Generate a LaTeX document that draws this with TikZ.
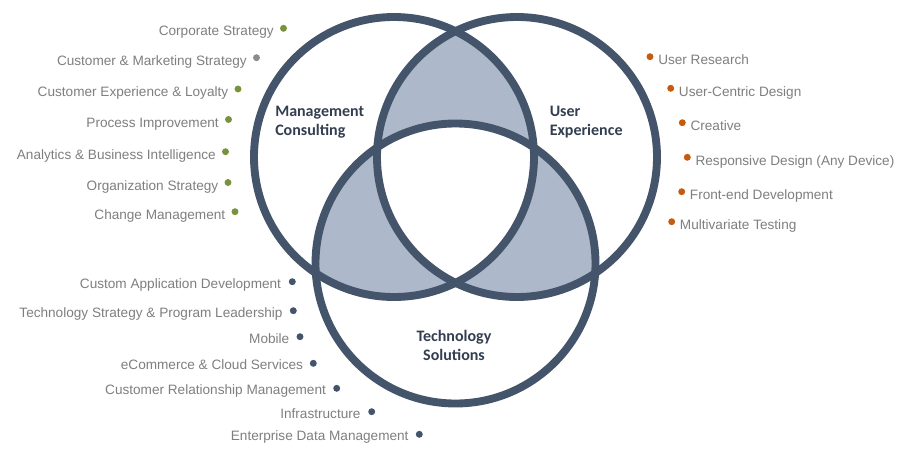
\documentclass[tikz,border=0pt]{standalone}
\usepackage{fontspec}
\setmainfont{Liberation Sans}
\newfontfamily\carlito{Carlito}
\definecolor{ring}{HTML}{44546A}
\definecolor{lapfill}{HTML}{ADB9CA}
\definecolor{itemgray}{HTML}{7F7F7F}
\definecolor{dgreen}{HTML}{77933C}
\definecolor{dorange}{HTML}{C55A11}
\definecolor{dgray}{HTML}{8C8C8C}
\definecolor{dnavy}{HTML}{44546A}
\definecolor{labelc}{HTML}{333F50}
\tikzset{
  ringline/.style={draw=ring, line width=5.9pt},
  dotbase/.style={circle, inner sep=0pt, minimum size=5.2pt},
  dotg/.style={dotbase, fill=dgreen},
  dotgr/.style={dotbase, fill=dgray},
  doto/.style={dotbase, fill=dorange},
  dotn/.style={dotbase, fill=dnavy},
  itemtext/.style={inner sep=0pt, text=itemgray, font=\fontsize{10.2}{12}\selectfont},
  ltext/.style={itemtext, anchor=base east},
  rtext/.style={itemtext, anchor=base west},
  bigl/.style={inner sep=0pt, text=labelc, font=\carlito\bfseries\fontsize{12}{14.4}\selectfont},
}
\begin{document}
\begin{tikzpicture}[x=0.75pt,y=-0.75pt]
\useasboundingbox[fill=white] (0,0) rectangle (911,461);
\coordinate (cA) at (394,157);
\coordinate (cB) at (517,157);
\coordinate (cC) at (455.5,263.5);
% shaded pairwise overlaps
\begin{scope}
  \clip (cA) circle [radius=105pt];
  \fill[lapfill] (cB) circle [radius=105pt];
  \fill[lapfill] (cC) circle [radius=105pt];
\end{scope}
\begin{scope}
  \clip (cB) circle [radius=105pt];
  \fill[lapfill] (cC) circle [radius=105pt];
\end{scope}
\begin{scope}
  \clip (cA) circle [radius=105pt];
  \clip (cB) circle [radius=105pt];
  \fill[white] (cC) circle [radius=105pt];
\end{scope}
% rings
\draw[ringline] (cA) circle [radius=105pt];
\draw[ringline] (cB) circle [radius=105pt];
\draw[ringline] (cC) circle [radius=105pt];
% circle labels
\node[bigl, anchor=north west, align=left] (lmc) at (275,106) {Management\\Consulting};
\node[bigl, anchor=north west, align=left] (lux) at (549.5,106) {User\\Experience};
\node[bigl, anchor=north, align=center] (lts) at (454,330) {Technology\\Solutions};
% left items
\node[dotg]  (g1) at (283.5,28.3) {};
\node[dotgr] (g2) at (256.5,57.7) {};
\node[dotg]  (g3) at (238,89) {};
\node[dotg]  (g4) at (228.5,119.5) {};
\node[dotg]  (g5) at (225.5,151.7) {};
\node[dotg]  (g6) at (228,182.5) {};
\node[dotg]  (g7) at (235,211.7) {};
\node[ltext] (t1) at ([shift={(-9.5,7.5)}]g1) {Corporate Strategy};
\node[ltext] (t2) at ([shift={(-9.5,7.5)}]g2) {Customer \& Marketing Strategy};
\node[ltext] (t3) at ([shift={(-9.5,7.5)}]g3) {Customer Experience \& Loyalty};
\node[ltext] (t4) at ([shift={(-9.5,7.5)}]g4) {Process Improvement};
\node[ltext] (t5) at ([shift={(-9.5,7.5)}]g5) {Analytics \& Business Intelligence};
\node[ltext] (t6) at ([shift={(-9.5,7.5)}]g6) {Organization Strategy};
\node[ltext] (t7) at ([shift={(-9.5,7.5)}]g7) {Change Management};
% right items
\node[doto] (o1) at (650,56.7) {};
\node[doto] (o2) at (670.7,88.3) {};
\node[doto] (o3) at (682.3,122.7) {};
\node[doto] (o4) at (687.3,157.3) {};
\node[doto] (o5) at (681.7,191.7) {};
\node[doto] (o6) at (671.7,221.7) {};
\node[rtext] (u1) at ([shift={(8,8)}]o1) {User Research};
\node[rtext] (u2) at ([shift={(8,8)}]o2) {User-Centric Design};
\node[rtext] (u3) at ([shift={(8,8)}]o3) {Creative};
\node[rtext] (u4) at ([shift={(8,8)}]o4) {Responsive Design (Any Device)};
\node[rtext] (u5) at ([shift={(8,8)}]o5) {Front-end Development};
\node[rtext] (u6) at ([shift={(8,8)}]o6) {Multivariate Testing};
% bottom items
\node[dotn] (n1) at (292.3,281.7) {};
\node[dotn] (n2) at (293.3,310.7) {};
\node[dotn] (n3) at (300,336.7) {};
\node[dotn] (n4) at (313.3,363.3) {};
\node[dotn] (n5) at (336.7,388.3) {};
\node[dotn] (n6) at (371.7,411.7) {};
\node[dotn] (n7) at (419.3,434.3) {};
\node[ltext] (b1) at ([shift={(-11,6.5)}]n1) {Custom Application Development};
\node[ltext] (b2) at ([shift={(-10.5,6.5)}]n2) {Technology Strategy \& Program Leadership};
\node[ltext] (b3) at ([shift={(-10.5,6.5)}]n3) {Mobile};
\node[ltext] (b4) at ([shift={(-10,6.5)}]n4) {eCommerce \& Cloud Services};
\node[ltext] (b5) at ([shift={(-10.5,6.5)}]n5) {Customer Relationship Management};
\node[ltext] (b6) at ([shift={(-11,6.5)}]n6) {Infrastructure};
\node[ltext] (b7) at ([shift={(-10.5,6.5)}]n7) {Enterprise Data Management};
\end{tikzpicture}
\end{document}
